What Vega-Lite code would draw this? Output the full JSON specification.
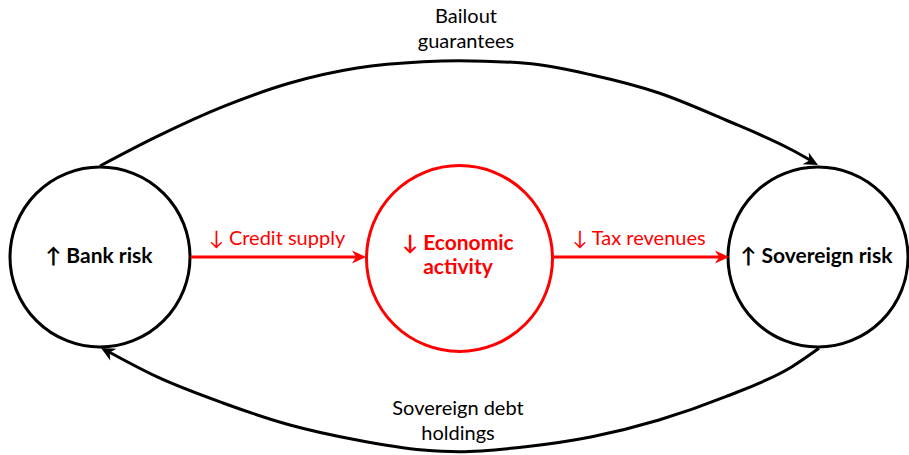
{
  "$schema": "https://vega.github.io/schema/vega-lite/v6.json",
  "autosize": {"type": "none"},
  "width": 909,
  "height": 455,
  "padding": 0,
  "background": "white",
  "config": {"view": {"stroke": null}},
  "datasets": {
    "nodes": [
      {"node": "Bank risk", "x": 100, "y": 257, "kind": "risk"},
      {"node": "Sovereign risk", "x": 818, "y": 257, "kind": "risk"},
      {"node": "Economic activity", "x": 459.5, "y": 258.5, "kind": "channel"}
    ],
    "links": [
      {"link": "Credit supply", "x": 191, "x2": 358, "y": 257},
      {"link": "Tax revenues", "x": 553, "x2": 721, "y": 257}
    ],
    "arcs": [
      {"arc": "Bailout guarantees", "x": 100, "y": 166},
      {"arc": "Bailout guarantees", "x": 156.7, "y": 136.7},
      {"arc": "Bailout guarantees", "x": 223, "y": 106.7},
      {"arc": "Bailout guarantees", "x": 290, "y": 83},
      {"arc": "Bailout guarantees", "x": 357, "y": 68},
      {"arc": "Bailout guarantees", "x": 423, "y": 61.7},
      {"arc": "Bailout guarantees", "x": 459, "y": 60.7},
      {"arc": "Bailout guarantees", "x": 525.7, "y": 63.3},
      {"arc": "Bailout guarantees", "x": 592, "y": 75},
      {"arc": "Bailout guarantees", "x": 659, "y": 93},
      {"arc": "Bailout guarantees", "x": 725.7, "y": 120},
      {"arc": "Bailout guarantees", "x": 792, "y": 150},
      {"arc": "Bailout guarantees", "x": 810, "y": 160},
      {"arc": "Sovereign debt holdings", "x": 109, "y": 352},
      {"arc": "Sovereign debt holdings", "x": 156.7, "y": 376.7},
      {"arc": "Sovereign debt holdings", "x": 223, "y": 403},
      {"arc": "Sovereign debt holdings", "x": 290, "y": 425},
      {"arc": "Sovereign debt holdings", "x": 357, "y": 440},
      {"arc": "Sovereign debt holdings", "x": 423, "y": 450},
      {"arc": "Sovereign debt holdings", "x": 459, "y": 451.7},
      {"arc": "Sovereign debt holdings", "x": 525.7, "y": 446.7},
      {"arc": "Sovereign debt holdings", "x": 592, "y": 436.7},
      {"arc": "Sovereign debt holdings", "x": 659, "y": 420},
      {"arc": "Sovereign debt holdings", "x": 725.7, "y": 396.7},
      {"arc": "Sovereign debt holdings", "x": 792, "y": 366.7},
      {"arc": "Sovereign debt holdings", "x": 819, "y": 348.3}
    ],
    "heads": [
      {"head": "Credit supply", "x": 366, "y": 257},
      {"head": "Tax revenues", "x": 729, "y": 257}
    ],
    "headTop": [{"head": "Bailout guarantees", "x": 818, "y": 165}],
    "headBottom": [{"head": "Sovereign debt holdings", "x": 101, "y": 348}],
    "labelsPlain": [
      {"label": "Bailout\nguarantees", "x": 466, "y": 23},
      {"label": "Sovereign debt\nholdings", "x": 458, "y": 415}
    ],
    "labelsRed": [
      {"label": "↓ Credit supply", "x": 277, "y": 245},
      {"label": "↓ Tax revenues", "x": 639, "y": 245}
    ],
    "labelsBold": [
      {"label": "↑ Bank risk", "x": 99, "y": 263},
      {"label": "↑ Sovereign risk", "x": 816.5, "y": 263}
    ],
    "labelsRedBold": [
      {"label": "↓ Economic\nactivity", "x": 458, "y": 250}
    ]
  },
  "encoding": {
    "x": {"field": "x", "type": "quantitative", "scale": {"domain": [0, 909], "nice": false, "zero": false}, "axis": null},
    "y": {"field": "y", "type": "quantitative", "scale": {"domain": [0, 455], "nice": false, "zero": false, "reverse": true}, "axis": null}
  },
  "layer": [
    {
      "data": {"name": "nodes"},
      "transform": [{"filter": "datum.kind === 'risk'"}],
      "mark": {"type": "point", "shape": "circle", "filled": false, "size": 32400, "stroke": "black", "strokeWidth": 3, "opacity": 1}
    },
    {
      "data": {"name": "nodes"},
      "transform": [{"filter": "datum.kind === 'channel'"}],
      "mark": {"type": "point", "shape": "circle", "filled": false, "size": 34596, "stroke": "#ff0000", "strokeWidth": 3, "opacity": 1}
    },
    {
      "data": {"name": "links"},
      "mark": {"type": "rule", "color": "#ff0000", "strokeWidth": 3},
      "encoding": {"x2": {"field": "x2"}}
    },
    {
      "data": {"name": "arcs"},
      "mark": {"type": "line", "color": "black", "strokeWidth": 3, "interpolate": "monotone"},
      "encoding": {"detail": {"field": "arc", "type": "nominal"}}
    },
    {
      "data": {"name": "heads"},
      "mark": {"type": "point", "shape": "M0,0 L-1,-0.47 L-0.7,0 L-1,0.47 Z", "filled": true, "size": 784, "color": "#ff0000", "opacity": 1, "angle": 0}
    },
    {
      "data": {"name": "headTop"},
      "mark": {"type": "point", "shape": "M0,0 L-1,-0.47 L-0.7,0 L-1,0.47 Z", "filled": true, "size": 784, "color": "black", "opacity": 1, "angle": 28}
    },
    {
      "data": {"name": "headBottom"},
      "mark": {"type": "point", "shape": "M0,0 L-1,-0.47 L-0.7,0 L-1,0.47 Z", "filled": true, "size": 784, "color": "black", "opacity": 1, "angle": 208}
    },
    {
      "data": {"name": "labelsPlain"},
      "mark": {"type": "text", "font": "Lato", "fontSize": 20, "color": "black", "align": "center", "baseline": "alphabetic", "lineBreak": "\n", "lineHeight": 25},
      "encoding": {"text": {"field": "label"}}
    },
    {
      "data": {"name": "labelsRed"},
      "mark": {"type": "text", "font": "Lato", "fontSize": 20, "color": "#ff0000", "align": "center", "baseline": "alphabetic"},
      "encoding": {"text": {"field": "label"}}
    },
    {
      "data": {"name": "labelsBold"},
      "mark": {"type": "text", "font": "Lato", "fontSize": 21, "fontWeight": "bold", "color": "black", "align": "center", "baseline": "alphabetic"},
      "encoding": {"text": {"field": "label"}}
    },
    {
      "data": {"name": "labelsRedBold"},
      "mark": {"type": "text", "font": "Lato", "fontSize": 21, "fontWeight": "bold", "color": "#ff0000", "align": "center", "baseline": "alphabetic", "lineBreak": "\n", "lineHeight": 24},
      "encoding": {"text": {"field": "label"}}
    }
  ]
}
